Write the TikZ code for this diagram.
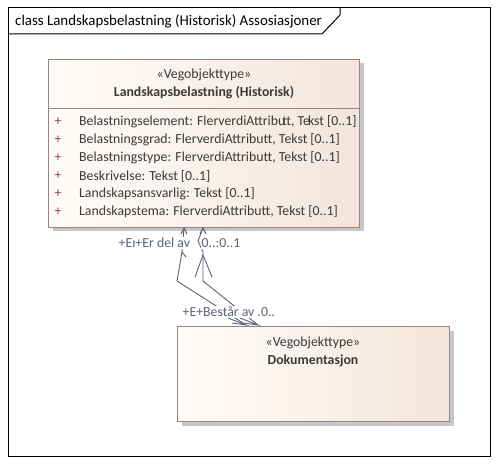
\documentclass[tikz,border=0pt]{standalone}
\usepackage{fontspec}
\setmainfont{Carlito}
\usetikzlibrary{shadows,calc}
\definecolor{conn}{HTML}{5B6377}
\definecolor{bord}{HTML}{9C8380}
\definecolor{fillL}{HTML}{FFFCFA}
\definecolor{fillR}{HTML}{F3E5DA}
\definecolor{plusc}{HTML}{A33C4F}
\definecolor{txt}{HTML}{3A3A3A}
\tikzset{
  classbox/.style={draw=bord, line width=1pt, left color=fillL, right color=fillR, anchor=north west, inner sep=0pt,
    drop shadow={shadow xshift=4pt, shadow yshift=-4pt, fill=black!22, opacity=1}},
  stereo/.style={font=\fontsize{13.8}{15}\selectfont, text=txt, inner sep=0pt},
  cname/.style={font=\fontsize{13.8}{15}\selectfont\bfseries, text=txt, inner sep=0pt},
  attr/.style={font=\fontsize{13.8}{15}\selectfont, text=txt, anchor=west, inner sep=0pt},
  plus/.style={font=\fontsize{13.8}{15}\selectfont, text=plusc, inner sep=0pt},
  lbl/.style={font=\fontsize{13.8}{15}\selectfont, text=conn, anchor=west, fill=white, inner xsep=0.5pt, inner ysep=1pt},
  conline/.style={draw=conn, line width=0.9pt},
}
\begin{document}
\begin{tikzpicture}[x=1pt,y=-1pt]
\useasboundingbox (0,0) rectangle (498,465);
\fill[white] (0,0) rectangle (498,465);
% frame
\draw[black, line width=1pt] (8,8) rectangle (490,456);
\draw[black, line width=1pt] (8,34) -- (322,34) -- (340,15) -- (340,8);
\node[anchor=west, inner sep=0pt, font=\fontsize{14.9}{16}\selectfont] (title) at (15,21) {class Landskapsbelastning (Historisk) Assosiasjoner};

% class 1
\node[classbox, minimum width=311pt, minimum height=168pt] (c1) at (48,59) {};
\draw[bord, line width=1pt] (48,109) -- (359,109);
\node[stereo] (c1s) at (204,75) {«Vegobjekttype»};
\node[cname] (c1n) at (204,93) {Landskapsbelastning (Historisk)};
\foreach \t [count=\i from 0] in {{Belastningselement: FlerverdiAttribu\kern-3pt tt, Te\kern-2pt kst [0..1]},
  {Belastningsgrad: FlerverdiAttributt, Tekst [0..1]},
  {Belastningstype: FlerverdiAttributt, Tekst [0..1]},
  {Beskrivelse: Tekst [0..1]},
  {Landskapsansvarlig: Tekst [0..1]},
  {Landskapstema: FlerverdiAttributt, Tekst [0..1]}}{
  \node[plus] (pl\i) at (58,122+18*\i) {+};
  \node[attr] (at\i) at (79,122+18*\i) {\t};
}

% class 2
\node[classbox, minimum width=272pt, minimum height=95pt] (c2) at (177,326) {};
\node[stereo] (c2s) at (313,343) {«Vegobjekttype»};
\node[cname] (c2n) at (313,361) {Dokumentasjon};

% connectors
\coordinate (a1) at (184,228);
\coordinate (a2) at (182,252);
\coordinate (a3) at (177,281);
\coordinate (a4) at (246,325);
\coordinate (b1) at (203,228);
\coordinate (b2) at (198,241);
\coordinate (b3) at (203,252);
\coordinate (b4) at (203,281);
\coordinate (b5) at (258,325);
\draw[conline] (a1) -- (a2) -- (a3) -- (a4);
\draw[conline] (b1) -- (b2) -- (b3) -- (b4) -- (b5);
% arrowheads at top
\draw[conline] ($(a1)+(-3,6)$) -- (a1) -- ($(a1)+(3,6)$);
\draw[conline] ($(b1)+(-3,6)$) -- (b1) -- ($(b1)+(3,6)$);
\draw[conline] ($(a2)+(4,5)$) -- (a2);
% mid arrowhead
\coordinate (m1) at (203,255);
\draw[conline] (195,277) -- (m1) -- (212,277);
% bottom arrowheads
\draw[conline] (228,318) -- (a4) -- (232,323);
\draw[conline] (240,318) -- (b5) -- (244,323);

% labels
\node[lbl] (l1) at (118,243) {+Eı+Er del av};
\node[lbl] (l2) at (201,243) {0..:0..1};
\node[lbl] (l3) at (182,312) {+E+Består av .0..};
\end{tikzpicture}
\end{document}
